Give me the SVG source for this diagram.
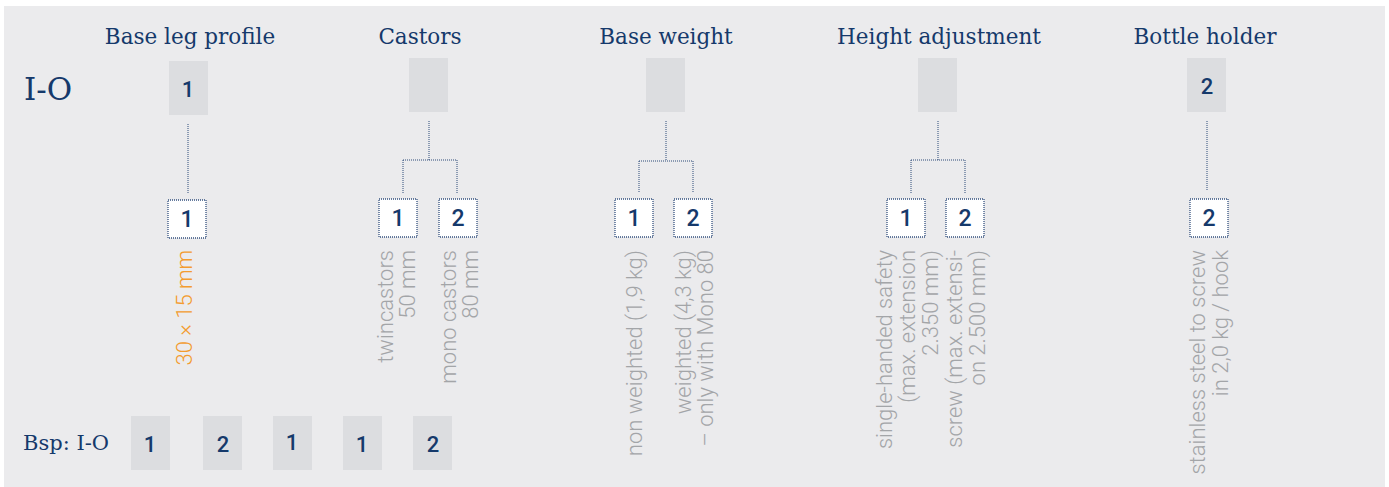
<svg xmlns="http://www.w3.org/2000/svg" width="1389" height="487" viewBox="0 0 1389 487">
<style>
.title{font-family:"DejaVu Serif",serif;font-size:21.5px;fill:#15396b;text-anchor:middle}
.code{font-family:"DejaVu Serif",serif;fill:#15396b}
.pbox{fill:#dcdde0}
.sbox{fill:#ffffff;stroke:#34517f;stroke-width:1.3;stroke-dasharray:1 1}
.num{font-family:Roboto,"Liberation Sans",sans-serif;font-weight:500;font-size:22px;fill:#15396b;text-anchor:middle}
.snum{font-size:23px}
.desc{font-family:Roboto,"Liberation Sans",sans-serif;font-weight:300;font-size:22px;fill:#a3a5a8;text-anchor:end}
.orange{fill:#f39b2f}
.conn{fill:none;stroke:#2c4a78;stroke-width:1;stroke-dasharray:1 1}
</style>
<rect x="0" y="0" width="1389" height="487" fill="#ffffff"/>
<rect x="4" y="6" width="1381" height="481" fill="#ebebed"/>

<text class="code" x="24" y="100" font-size="31">I-O</text>

<g id="connectors">
<path class="conn" d="M188,124 V193"/>
<path class="conn" d="M429,121 V160 M403,160 H457 M403,160 V193 M457,160 V193"/>
<path class="conn" d="M666,121 V161 M639,161 H693 M639,161 V192 M693,161 V192"/>
<path class="conn" d="M938,121 V160 M911,160 H965 M911,160 V193 M965,160 V193"/>
<path class="conn" d="M1207,121 V191"/>
</g>

<g id="base-leg">
<text class="title" x="190" y="44">Base leg profile</text>
<rect class="pbox" x="169" y="61" width="39" height="54"/>
<text class="num" x="188" y="97">1</text>
<rect class="sbox" x="168" y="200" width="38" height="38"/>
<text class="num snum" x="187" y="227">1</text>
<text class="desc orange" transform="translate(192,250) rotate(-90)">30 × 15 mm</text>
</g>

<g id="castors">
<text class="title" x="420" y="44">Castors</text>
<rect class="pbox" x="409" y="58" width="39" height="54"/>
<rect class="sbox" x="379" y="199" width="38" height="38"/>
<text class="num snum" x="398" y="226">1</text>
<rect class="sbox" x="439" y="199" width="38" height="38"/>
<text class="num snum" x="458" y="226">2</text>
<text class="desc" transform="translate(393,250) rotate(-90)">twincastors</text>
<text class="desc" transform="translate(415,250) rotate(-90)">50 mm</text>
<text class="desc" transform="translate(456,250) rotate(-90)">mono castors</text>
<text class="desc" transform="translate(478,250) rotate(-90)">80 mm</text>
</g>

<g id="base-weight">
<text class="title" x="666" y="44">Base weight</text>
<rect class="pbox" x="646" y="58" width="39" height="54"/>
<rect class="sbox" x="615" y="199" width="38" height="38"/>
<text class="num snum" x="634" y="226">1</text>
<rect class="sbox" x="674" y="199" width="38" height="38"/>
<text class="num snum" x="693" y="226">2</text>
<text class="desc" transform="translate(642,250) rotate(-90)">non weighted (1,9 kg)</text>
<text class="desc" transform="translate(691,250) rotate(-90)">weighted (4,3 kg)</text>
<text class="desc" transform="translate(713,250) rotate(-90)">– only with Mono 80</text>
</g>

<g id="height-adjustment">
<text class="title" x="939" y="44">Height adjustment</text>
<rect class="pbox" x="918" y="58" width="39" height="54"/>
<rect class="sbox" x="887" y="199" width="38" height="38"/>
<text class="num snum" x="906" y="226">1</text>
<rect class="sbox" x="946" y="199" width="38" height="38"/>
<text class="num snum" x="965" y="226">2</text>
<text class="desc" transform="translate(892,250) rotate(-90)">single-handed safety</text>
<text class="desc" transform="translate(915,250) rotate(-90)">(max. extension</text>
<text class="desc" transform="translate(938,250) rotate(-90)">2.350 mm)</text>
<text class="desc" transform="translate(962,250) rotate(-90)">screw (max. extensi-</text>
<text class="desc" transform="translate(985,250) rotate(-90)">on 2.500 mm)</text>
</g>

<g id="bottle-holder">
<text class="title" x="1205" y="44">Bottle holder</text>
<rect class="pbox" x="1187" y="58" width="39" height="54"/>
<text class="num" x="1207" y="94">2</text>
<rect class="sbox" x="1190" y="199" width="38" height="38"/>
<text class="num snum" x="1209" y="226">2</text>
<text class="desc" transform="translate(1205,250) rotate(-90)">stainless steel to screw</text>
<text class="desc" transform="translate(1228,250) rotate(-90)">in 2,0 kg / hook</text>
</g>

<g id="example">
<text class="code" x="23" y="450" font-size="21">Bsp: I-O</text>
<rect class="pbox" x="131" y="416" width="39" height="54"/>
<text class="num" x="150" y="452">1</text>
<rect class="pbox" x="203" y="416" width="39" height="54"/>
<text class="num" x="223" y="452">2</text>
<rect class="pbox" x="273" y="416" width="39" height="54"/>
<text class="num" x="292" y="450">1</text>
<rect class="pbox" x="343" y="416" width="39" height="54"/>
<text class="num" x="362" y="452">1</text>
<rect class="pbox" x="413" y="416" width="39" height="54"/>
<text class="num" x="433" y="452">2</text>
</g>
</svg>
